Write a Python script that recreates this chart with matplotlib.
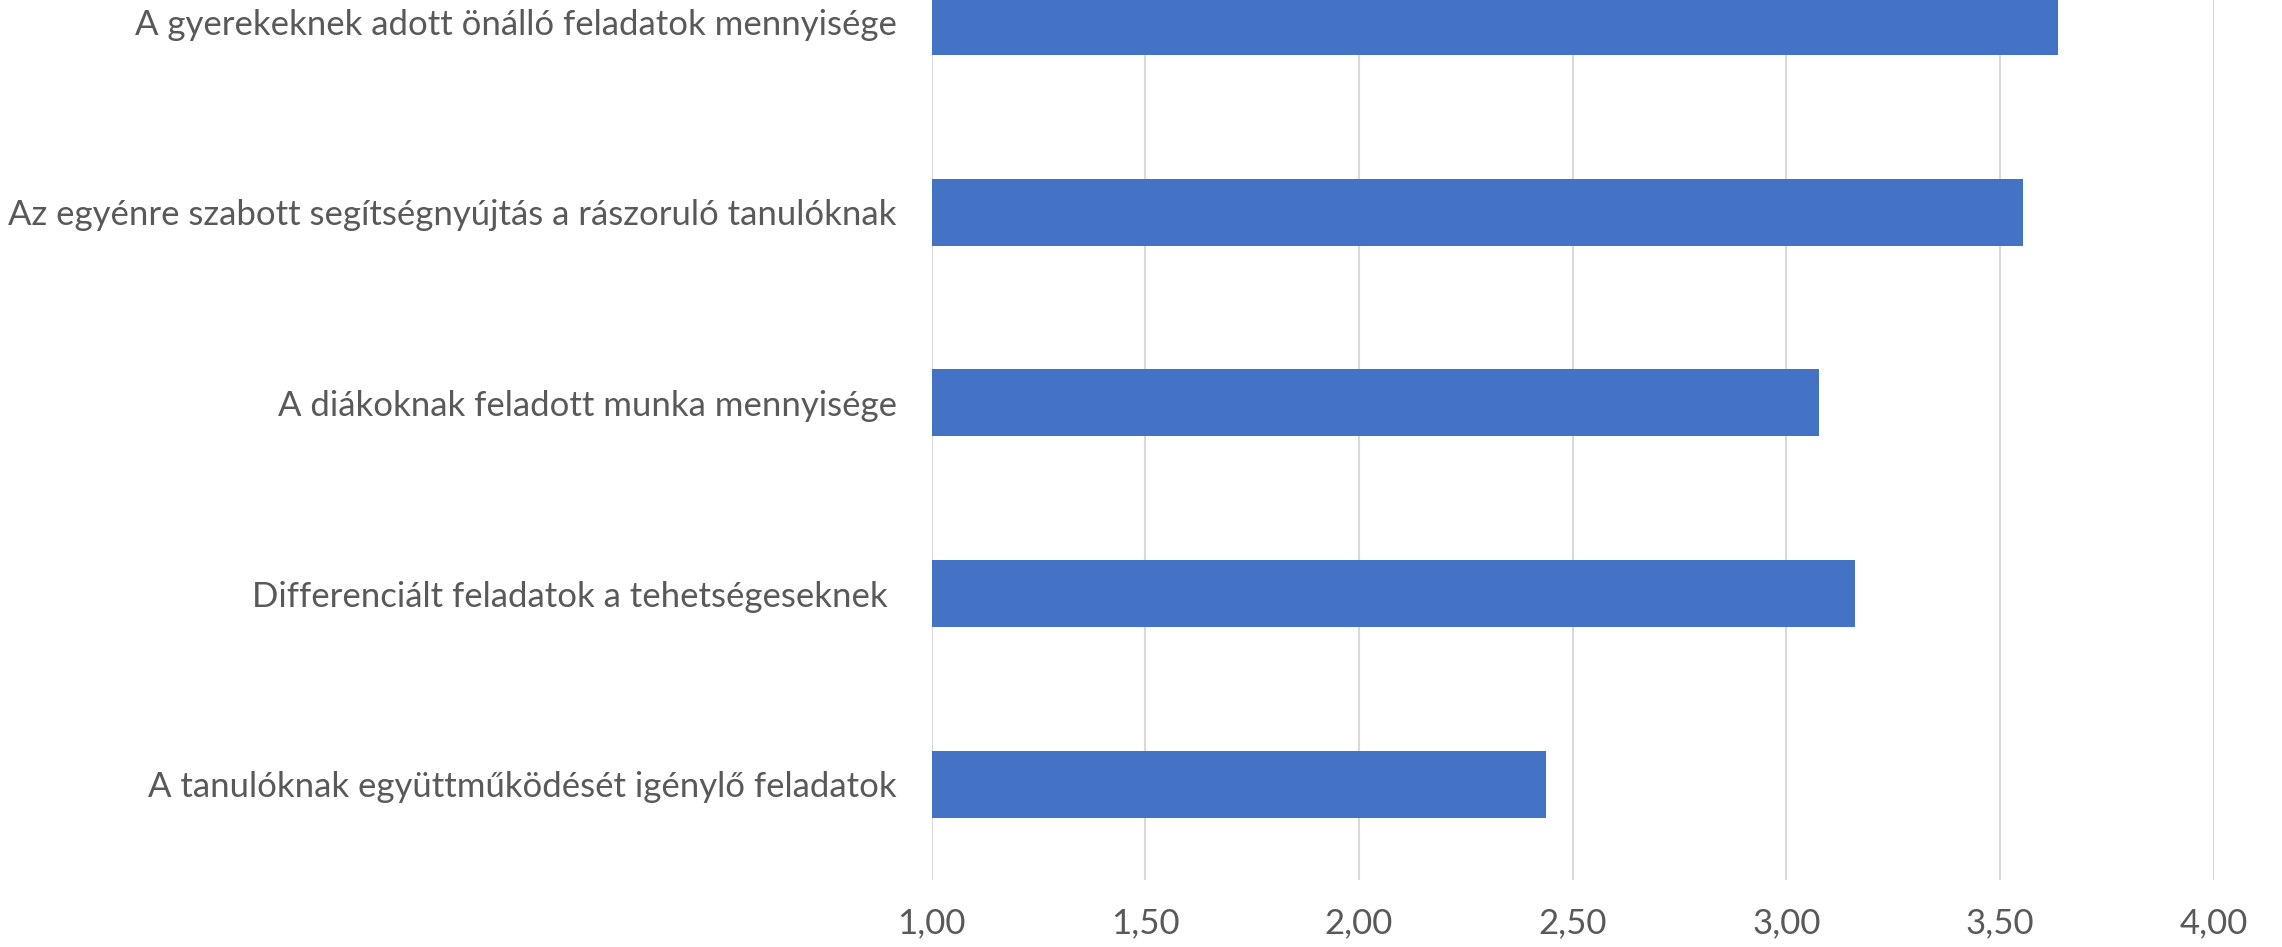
import matplotlib
matplotlib.use("Agg")
import matplotlib.pyplot as plt

categories = [
    "A gyerekeknek adott önálló feladatok mennyisége",
    "Az egyénre szabott segítségnyújtás a rászoruló tanulóknak",
    "A diákoknak feladott munka mennyisége",
    "Differenciált feladatok a tehetségeseknek ",
    "A tanulóknak együttműködését igénylő feladatok",
]
values = [3.635, 3.553, 3.077, 3.16, 2.438]
xticks = [1.0, 1.5, 2.0, 2.5, 3.0, 3.5, 4.0]
xtick_labels = ["1,00", "1,50", "2,00", "2,50", "3,00", "3,50", "4,00"]

plt.rcParams['font.family'] = ['Lato', 'DejaVu Sans']
text_color = "#595959"

fig = plt.figure(figsize=(22.82, 9.47), dpi=100)
ax = fig.add_axes([0.4082, 0.0712, 0.9701 - 0.4082, 1.0779 - 0.0712])

ypos = list(range(len(categories)))
ax.barh(ypos, [v - 1.0 for v in values], left=1.0, height=0.352, color="#4472C4", zorder=3)

ax.set_xlim(1.0, 4.0)
ax.set_ylim(len(categories) - 0.5, -0.5)
ax.set_xticks(xticks)
ax.set_xticklabels(xtick_labels)
ax.set_yticks(ypos)
ax.set_yticklabels(categories)
ax.tick_params(axis='both', length=0, labelsize=25, colors=text_color)
ax.tick_params(axis='y', pad=25)
ax.tick_params(axis='x', pad=20)
ax.grid(axis='x', color="#d9d9d9", linewidth=1.5, zorder=0)
ax.grid(axis='y', visible=False)
for s in ax.spines.values():
    s.set_visible(False)

fig.savefig("out.png", dpi=100)
